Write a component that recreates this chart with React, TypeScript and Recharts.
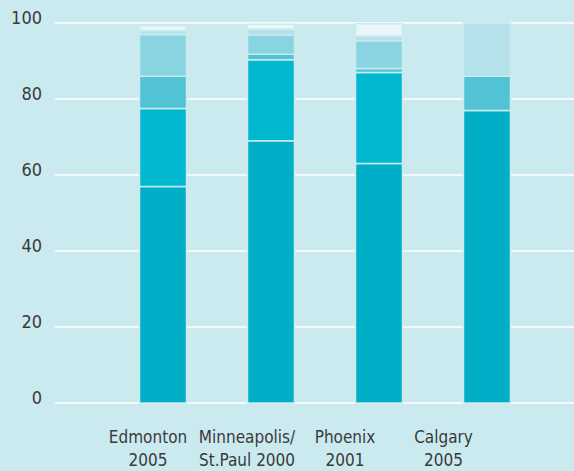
import React from 'react';
import { BarChart, Bar, XAxis, YAxis, CartesianGrid } from 'recharts';

const cities = ['Edmonton 2005', 'Minneapolis/ St.Paul 2000', 'Phoenix 2001', 'Calgary 2005'];
const labelLine1 = ['Edmonton', 'Minneapolis/', 'Phoenix', 'Calgary'];
const labelLine2 = ['2005', 'St.Paul 2000', '2001', '2005'];
const s1 = [57, 69, 63, 77];
const s2 = [20.5, 21.3, 24, 0];
const s3 = [8.5, 1.5, 1, 9];
const s4 = [11, 5, 7.3, 0];
const s5 = [1, 1.6, 1.3, 14];
const s6 = [1.3, 1.3, 3.2, 0];
const yTicks = [0, 20, 40, 60, 80, 100];

const colors = ['#00AEC7', '#00B8CF', '#52C3D5', '#89D4E1', '#B5E2EA', '#E9F6FA'];
const BG = '#CBEAF0';
const FONT = '"DejaVu Sans Condensed", "DejaVu Sans", sans-serif';
const labelShift = [-14.5, -23.5, -33.5, -43];

const data = cities.map((c, i) => ({
  name: c,
  s1: s1[i], s2: s2[i], s3: s3[i], s4: s4[i], s5: s5[i], s6: s6[i],
}));

const XTick = (props: any) => {
  const { x, index } = props;
  const cx = x + labelShift[index];
  return (
    <g>
      <text x={cx} y={443} textAnchor="middle" fill="#3a3a3a" fontSize={17} fontFamily={FONT}>
        {labelLine1[index]}
      </text>
      <text x={cx} y={466} textAnchor="middle" fill="#3a3a3a" fontSize={17} fontFamily={FONT}>
        {labelLine2[index]}
      </text>
    </g>
  );
};

const YTick = (props: any) => {
  const { y, payload } = props;
  return (
    <text x={42} y={y + 1} textAnchor="end" fill="#3a3a3a" fontSize={18} fontFamily={FONT}>
      {payload.value}
    </text>
  );
};

export default function App() {
  const keys = ['s1', 's2', 's3', 's4', 's5', 's6'];
  return (
    <div style={{ position: 'absolute', left: 0, top: 0, width: 574, height: 471, background: BG }}>
      <BarChart width={574} height={471} data={data} margin={{ top: 23, right: 0, bottom: 0, left: 0 }}>
        <CartesianGrid horizontal={true} vertical={false} stroke="#FFFFFF" strokeWidth={1.5} />
        <XAxis
          dataKey="name"
          height={68}
          axisLine={false}
          tickLine={false}
          interval={0}
          padding={{ left: 53.5, right: 33.5 }}
          tick={<XTick />}
        />
        <YAxis
          width={55}
          domain={[0, 100]}
          ticks={yTicks}
          axisLine={false}
          tickLine={false}
          tick={<YTick />}
        />
        {keys.map((k, i) => (
          <Bar
            key={k}
            dataKey={k}
            stackId="a"
            barSize={47}
            fill={colors[i]}
            stroke={BG}
            strokeWidth={1.5}
            isAnimationActive={false}
          />
        ))}
      </BarChart>
    </div>
  );
}
